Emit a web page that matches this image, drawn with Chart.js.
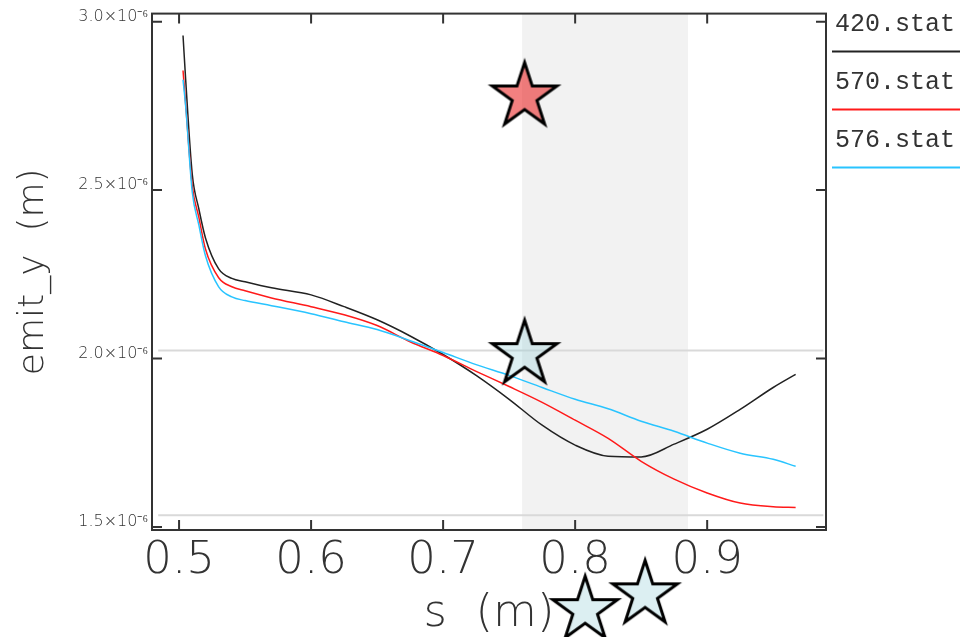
<!DOCTYPE html>
<html lang="en">
<head>
<meta charset="UTF-8">
<title>emit_y vs s</title>
<script src="https://cdn.jsdelivr.net/npm/chart.js"></script>
<style>
  html, body { margin: 0; padding: 0; background: #fff; }
  #wrap { width: 968px; height: 637px; }
</style>
</head>
<body>
<div id="wrap"><canvas id="emitChart" width="968" height="637"></canvas></div>
<script>
// position s (m)
const sPos = [0.503, 0.505, 0.51, 0.515, 0.52, 0.53, 0.54, 0.55, 0.57, 0.6, 0.625, 0.65, 0.675,
              0.7, 0.725, 0.75, 0.775, 0.8, 0.825, 0.85, 0.875, 0.9, 0.925, 0.95, 0.967];
// emit_y in units of 1e-6 m
const emit420 = [2.959, 2.828, 2.547, 2.444, 2.358, 2.266, 2.238, 2.228, 2.210, 2.189, 2.154, 2.115, 2.067,
                 2.012, 1.950, 1.879, 1.802, 1.743, 1.710, 1.708, 1.746, 1.790, 1.849, 1.914, 1.953];
const emit570 = [2.855, 2.754, 2.512, 2.419, 2.325, 2.240, 2.213, 2.201, 2.180, 2.154, 2.130, 2.098, 2.050,
                 2.009, 1.962, 1.917, 1.870, 1.817, 1.763, 1.695, 1.642, 1.601, 1.571, 1.560, 1.558];
const emit576 = [2.828, 2.749, 2.494, 2.396, 2.305, 2.213, 2.183, 2.172, 2.157, 2.133, 2.109, 2.086, 2.053,
                 2.018, 1.982, 1.950, 1.914, 1.879, 1.851, 1.814, 1.784, 1.749, 1.719, 1.701, 1.680];

const seriesNames = ['420.stat', '570.stat', '576.stat'];
const seriesColors = ['#222222', '#ff1a1a', '#29c4ff'];

const xTicks = [0.5, 0.6, 0.7, 0.8, 0.9];
const yTicks = [1.5, 2.0, 2.5, 3.0];
const yTickLabels = ['1.5×10⁻⁶', '2.0×10⁻⁶', '2.5×10⁻⁶', '3.0×10⁻⁶'];

const xRange = [0.4795, 0.990];
const yRange = [1.491, 3.024];
const shadedS = [0.7598, 0.8856];
const refLevels = [2.024, 1.535];
const refSpan = [0.4842, 0.988];

// star markers [s, emit_y]
const redStars = [[0.7617, 2.778]];
const paleStars = [[0.7617, 2.013], [0.8076, 1.253], [0.853, 1.300]];

const E = 1e-6;
const FONT = 'DejaVu Sans';
const INK = '#333';

function starImage(R, fill) {
  const size = Math.ceil(2 * R + 16);
  const c = document.createElement('canvas');
  c.width = c.height = size;
  const g = c.getContext('2d');
  const cx = size / 2, cy = size / 2, r = R * 0.382;
  g.beginPath();
  for (let i = 0; i < 10; i++) {
    const rad = i % 2 ? r : R;
    const a = -Math.PI / 2 + i * Math.PI / 5;
    g.lineTo(cx + rad * Math.cos(a), cy + rad * Math.sin(a));
  }
  g.closePath();
  g.fillStyle = fill;
  g.fill();
  g.lineWidth = 3;
  g.lineJoin = 'miter';
  g.strokeStyle = '#000';
  g.stroke();
  return c;
}

const starSets = [[redStars, starImage(34, 'rgba(232,12,12,0.52)')],
                  [paleStars, starImage(34, 'rgba(150,205,215,0.33)')]];

const pts = arr => sPos.map((s, i) => ({ x: s, y: arr[i] * E }));

const datasets = [emit420, emit570, emit576].map((arr, i) => ({
  label: seriesNames[i],
  data: pts(arr),
  borderColor: seriesColors[i],
  borderWidth: 1.5,
  pointRadius: 0,
  cubicInterpolationMode: 'monotone',
  fill: false,
  order: 3 - i
}));

// shaded s window, filled down from the top of the scale
datasets.push({
  label: 'band',
  data: shadedS.map(s => ({ x: s, y: yRange[1] * E })),
  borderWidth: 0,
  pointRadius: 0,
  backgroundColor: '#f2f2f2',
  fill: 'start',
  order: 10
});

refLevels.forEach(v => datasets.push({
  label: 'ref',
  data: refSpan.map(s => ({ x: s, y: v * E })),
  borderColor: '#d9d9d9',
  borderWidth: 2,
  pointRadius: 0,
  fill: false,
  order: 8
}));

const framePlugin = {
  id: 'frame',
  afterDatasetsDraw(chart) {
    const { ctx, chartArea: a, scales: { x, y } } = chart;
    ctx.save();
    ctx.strokeStyle = INK;
    ctx.lineWidth = 2;
    ctx.strokeRect(a.left, a.top, a.right - a.left, a.bottom - a.top);
    ctx.beginPath();
    xTicks.forEach(v => {
      const px = x.getPixelForValue(v);
      ctx.moveTo(px, a.bottom); ctx.lineTo(px, a.bottom - 10);
      ctx.moveTo(px, a.top); ctx.lineTo(px, a.top + 10);
    });
    yTicks.forEach(v => {
      const py = y.getPixelForValue(v * E);
      ctx.moveTo(a.left, py); ctx.lineTo(a.left + 10, py);
      ctx.moveTo(a.right, py); ctx.lineTo(a.right - 10, py);
    });
    ctx.stroke();

    // star markers, placed through the scales (some sit below the axis)
    starSets.forEach(([list, img]) => list.forEach(p => {
      const px = x.getPixelForValue(p[0]);
      const py = y.getPixelForValue(p[1] * E);
      ctx.drawImage(img, px - img.width / 2, py - img.height / 2);
    }));
    ctx.restore();
  },
  afterDraw(chart) {
    // legend in the right margin
    const { ctx, chartArea: a } = chart;
    ctx.save();
    ctx.font = '25px "Liberation Mono"';
    ctx.fillStyle = INK;
    ctx.textBaseline = 'alphabetic';
    seriesNames.forEach((name, i) => {
      const top = a.top + i * 58;
      ctx.fillText(name, a.right + 9, top + 17);
      ctx.beginPath();
      ctx.strokeStyle = seriesColors[i];
      ctx.lineWidth = 2;
      ctx.moveTo(a.right + 6, top + 38);
      ctx.lineTo(960, top + 38);
      ctx.stroke();
    });
    ctx.restore();
  }
};

new Chart(document.getElementById('emitChart'), {
  type: 'line',
  data: { datasets },
  options: {
    responsive: false,
    animation: false,
    events: [],
    layout: { padding: { top: 11, right: 142, left: 0, bottom: 0 } },
    plugins: { legend: { display: false }, tooltip: { enabled: false } },
    scales: {
      x: {
        type: 'linear',
        min: xRange[0],
        max: xRange[1],
        afterBuildTicks: s => { s.ticks = xTicks.map(v => ({ value: v })); },
        afterFit: s => { s.height = 107; },
        grid: { display: false, drawTicks: false },
        border: { display: false },
        ticks: {
          autoSkip: false,
          maxRotation: 0,
          padding: 4,
          color: INK,
          font: { family: FONT, size: 45, weight: 200 },
          callback: v => v.toFixed(1)
        },
        title: {
          display: true,
          text: 's  (m)',
          color: INK,
          font: { family: FONT, size: 45, weight: 200, lineHeight: 1 },
          padding: { top: 0, bottom: 0 }
        }
      },
      y: {
        type: 'linear',
        min: yRange[0] * E,
        max: yRange[1] * E,
        afterBuildTicks: s => { s.ticks = yTicks.map(v => ({ value: v * E })); },
        afterFit: s => { s.width = 152; },
        grid: { display: false, drawTicks: false },
        border: { display: false },
        ticks: {
          padding: 4,
          labelOffset: -5,
          color: INK,
          font: { family: FONT, size: 16, weight: 200 },
          callback: (v, i) => yTickLabels[i]
        },
        title: {
          display: true,
          text: 'emit_y  (m)',
          color: INK,
          font: { family: FONT, size: 36, weight: 200 },
          padding: { top: 12, bottom: 0 }
        }
      }
    }
  },
  plugins: [framePlugin]
});
</script>
</body>
</html>
